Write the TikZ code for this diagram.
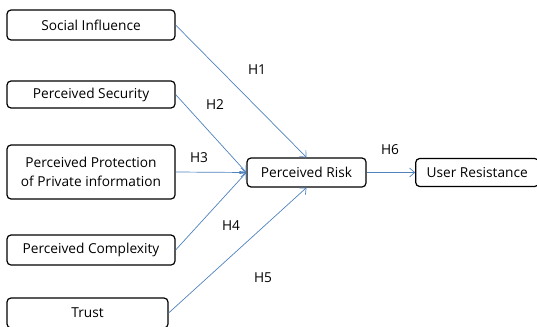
\documentclass[tikz,border=0pt]{standalone}
\usepackage{fontspec}
\setmainfont{Open Sans}
\usepackage{xcolor}
\usepackage{tikz}
\usetikzlibrary{arrows.meta, positioning}
\definecolor{pathblue}{RGB}{79,129,189}

\begin{document}
\begin{tikzpicture}[
        x=1pt, y=-1pt,
        construct/.style={rectangle, draw=black, line width=1.2pt, fill=white, minimum width=168pt, minimum height=30pt, align=center, rounded corners=4pt, inner sep=1pt, font=\fontsize{13.7}{18.5}\selectfont},
        hyp/.style={font=\fontsize{13.7}{16}\selectfont},
        arrow/.style={-{Straight Barb[length=5pt, width=9pt]}, color=pathblue, line width=0.7pt}
    ]
    \useasboundingbox (0,0) rectangle (537,326);

    % Antecedents
    \node (social) [construct] at (91,25) {Social Influence};
    \node (security) [construct, minimum height=27pt] at (91,94.5) {Perceived Security};
    \node (protect) [construct, minimum height=54pt] at (91,172) {Perceived Protection\\of Private information};
    \node (complex) [construct] at (91,250) {Perceived Complexity};
    \node (trust) [construct, minimum width=161pt] at (87.5,313) {Trust};

    % Mediator and outcome
    \node (risk) [construct, minimum width=119pt, minimum height=29pt] at (306.5,172.5) {Perceived Risk};
    \node (resist) [construct, minimum width=123pt, minimum height=28pt, right=48.5pt of risk] {User Resistance};

    % Paths
    \draw[arrow] (social.east) -- (risk.north);
    \draw[arrow] (security.east) -- (risk.west);
    \draw[arrow] (protect.east) -- (risk.west);
    \draw[arrow] (complex.east) -- (risk.west);
    \draw[arrow] (trust.east) -- (risk.south);
    \draw[arrow] (risk.east) -- (resist.west);

    % Hypotheses
    \node (h1) [hyp] at (257,70) {H1};
    \node (h2) [hyp] at (215,105) {H2};
    \node (h3) [hyp] at (199,158) {H3};
    \node (h4) [hyp] at (231,226) {H4};
    \node (h5) [hyp] at (263,278) {H5};
    \node (h6) [hyp] at (390,150) {H6};

    \end{tikzpicture}
\end{document}
